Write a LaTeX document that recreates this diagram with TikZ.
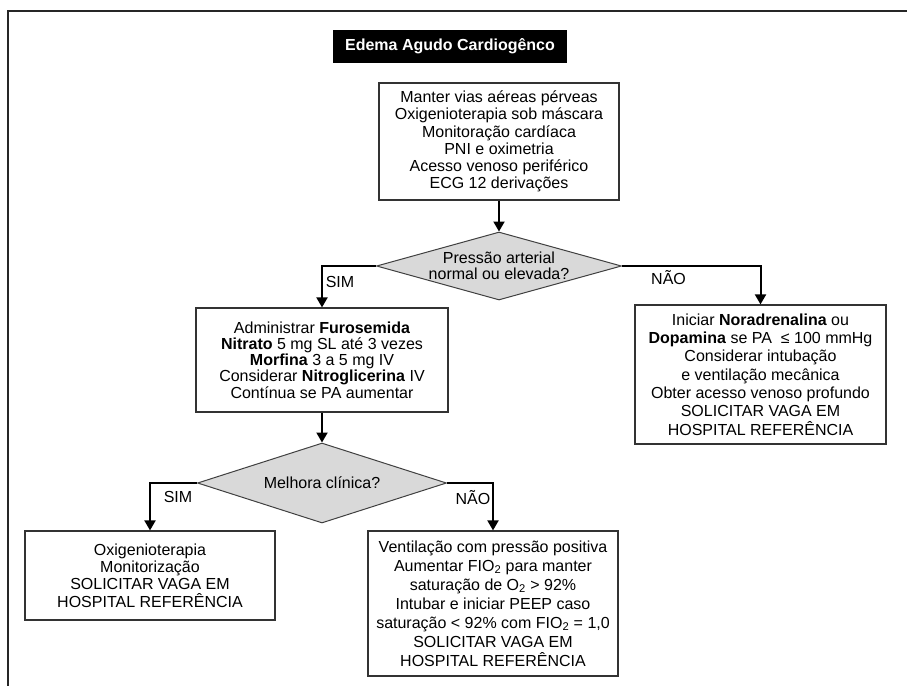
\documentclass[tikz,border=0pt]{standalone}
\usepackage{fontspec}
\setmainfont{Liberation Sans}
\usetikzlibrary{arrows.meta}
\usetikzlibrary{shapes}

\begin{document}
\begin{tikzpicture}[x = 1pt, y = -1pt]
	\tikzstyle{titleStyle} = [fill = black, text = white, inner sep = 0pt, font = \fontsize{16}{18}\selectfont\bfseries]
	\tikzstyle{boxStyle} = [draw = black!80, line width = 1.2pt, align = center, inner sep = 0pt, font = \fontsize{16}{17.3}\selectfont]
	\tikzstyle{decisionStyle} = [shape = diamond, draw = black!75, fill = black!15, line width = 1pt, align = center, inner sep = 0pt, aspect = 3.6, font = \fontsize{16}{15.5}\selectfont]
	\tikzstyle{arrowStyle} = [line width = 2pt, -{Triangle[width = 11pt, length = 10pt]}]
	\tikzstyle{answerStyle} = [inner sep = 0pt, font = \fontsize{16}{18}\selectfont]
	\useasboundingbox (0,0) rectangle (907,686);
	\draw[line width = 1.6pt, black!85] (907,11) -- (8,11) -- (8,686);
	\node[titleStyle, minimum width = 234pt, minimum height = 33pt] (title) at (450,46.5) {Edema Agudo Cardiogênco};
	\node[boxStyle, minimum width = 240pt, minimum height = 117pt] (inicio) at (499,141.5) {Manter vias aéreas pérveas\\Oxigenioterapia sob máscara\\Monitoração cardíaca\\PNI e oximetria\\Acesso venoso periférico\\ECG 12 derivações};
	\node[decisionStyle, minimum width = 245pt, minimum height = 68pt] (pressao) at (499,266) {Pressão arterial\\normal ou elevada?};
	\node[boxStyle, minimum width = 252pt, minimum height = 104pt, font = \fontsize{16}{16.2}\selectfont] (furosemida) at (322,360) {Administrar \textbf{Furosemida}\\\textbf{Nitrato} 5 mg SL até 3 vezes\\\textbf{Morfina} 3 a 5 mg IV\\Considerar \textbf{Nitroglicerina} IV\\Contínua se PA aumentar};
	\node[boxStyle, minimum width = 251pt, minimum height = 139pt, font = \fontsize{16}{18.3}\selectfont] (noradrenalina) at (760.5,374.5) {Iniciar \textbf{Noradrenalina} ou\\\textbf{Dopamina} se PA \ ≤ 100 mmHg\\Considerar intubação\\e ventilação mecânica\\Obter acesso venoso profundo\\SOLICITAR VAGA EM\\HOSPITAL REFERÊNCIA};
	\node[decisionStyle, minimum width = 249pt, minimum height = 80pt] (melhora) at (322,483) {Melhora clínica?};
	\node[boxStyle, minimum width = 250pt, minimum height = 89pt] (sim) at (150,575.5) {Oxigenioterapia\\Monitorização\\SOLICITAR VAGA EM\\HOSPITAL REFERÊNCIA};
	\node[boxStyle, minimum width = 250pt, minimum height = 145pt, font = \fontsize{16}{19}\selectfont] (nao) at (493,603.5) {Ventilação com pressão positiva\\Aumentar FIO\textsubscript{2} para manter\\saturação de O\textsubscript{2} > 92\%\\Intubar e iniciar PEEP caso\\saturação < 92\% com FIO\textsubscript{2} = 1,0\\SOLICITAR VAGA EM\\HOSPITAL REFERÊNCIA};
	\draw[arrowStyle] (inicio) -- (pressao);
	\draw[arrowStyle] (pressao.west) -| node[answerStyle, pos = 0.5, xshift = 18pt, yshift = -16pt] {SIM} (furosemida.north);
	\draw[arrowStyle] (pressao.east) -| node[answerStyle, pos = 0.168, yshift = -12pt] {NÃO} (noradrenalina.north);
	\draw[arrowStyle] (furosemida) -- (melhora);
	\draw[arrowStyle] (melhora.west) -| node[answerStyle, pos = 0.5, xshift = 28pt, yshift = -14pt] {SIM} (sim.north);
	\draw[arrowStyle] (melhora.east) -| node[answerStyle, pos = 0.5, xshift = -20pt, yshift = -15pt] {NÃO} (nao.north);
\end{tikzpicture}
\end{document}
